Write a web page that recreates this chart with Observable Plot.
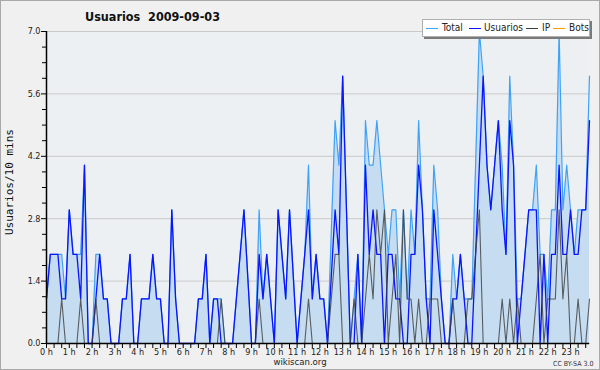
<!DOCTYPE html>
<html>
<head>
<meta charset="utf-8">
<script src="https://cdn.jsdelivr.net/npm/d3@7"></script>
<script src="https://cdn.jsdelivr.net/npm/@observablehq/plot@0.6"></script>
<style>
html,body{margin:0;padding:0;background:#f0f0f0;}
#wrap{position:relative;width:600px;height:370px;overflow:hidden;background:#f0f0f0;}
#wrap svg{position:absolute;left:0;top:0;}
#border{position:absolute;left:0;top:0;width:598px;height:368px;border:1px solid #a9a9a9;pointer-events:none;}
#title{position:absolute;left:85px;top:9px;font:bold 12.5px "DejaVu Sans Condensed","DejaVu Sans";white-space:pre;color:#111;line-height:15px;}
#ytitle{position:absolute;left:4px;top:126px;height:112px;writing-mode:vertical-rl;transform:rotate(180deg);font:11px "DejaVu Sans Mono";line-height:12px;white-space:pre;color:#111;text-align:center;}
#legend{position:absolute;left:422px;top:19px;width:166px;height:16px;background:#fff;border:1px solid #b0b0b0;box-shadow:2px 2px 0 #7a7a7a;font:10px "DejaVu Sans Condensed","DejaVu Sans";color:#222;}
#legend .sw{position:absolute;top:8px;width:12px;height:1px;}
#legend .tx{position:absolute;top:2px;line-height:12px;white-space:nowrap;}
#src{position:absolute;left:0;width:600px;top:357px;text-align:center;font:9.5px "DejaVu Sans Condensed","DejaVu Sans";line-height:10px;color:#222;}
#cc{position:absolute;left:553px;top:360px;font:7px "DejaVu Sans Condensed","DejaVu Sans";line-height:8px;color:#333;}
</style>
</head>
<body>
<div id="wrap">
  <div id="chart"></div>
  <div id="title"></div>
  <div id="ytitle"></div>
  <div id="legend"></div>
  <div id="src"></div>
  <div id="cc"></div>
  <div id="border"></div>
</div>
<script>
// ---- Data (10-minute slots, 0:00 .. 23:50); null = no point drawn ----
const titleText = "Usuarios  2009-09-03";
const yTitle = "Usuarios/10 mins";
const seriesNames = ["Total", "Usuarios", "IP", "Bots"];
const seriesColors = ["#3fa2f7", "#0a14ff", "#3c3c3c", "#ff9a00"];
const hourLabels = ["0 h","1 h","2 h","3 h","4 h","5 h","6 h","7 h","8 h","9 h","10 h","11 h","12 h","13 h","14 h","15 h","16 h","17 h","18 h","19 h","20 h","21 h","22 h","23 h"];
const yTicks = [0, 1.4, 2.8, 4.2, 5.6, 7.0];
const yMinorTicks = [0.35,0.7,1.05,1.75,2.1,2.45,3.15,3.5,3.85,4.55,4.9,5.25,5.95,6.3,6.65];

const usuarios = [
 1,2,2,2,1,1,3,2,2,1,4,0,0,1,2,1,1,0,0,0,1,1,2,0,
 0,1,1,1,2,1,1,0,0,3,1,0,0,0,0,0,1,1,2,0,1,1,0,0,
 0,0,1,2,3,null,0,0,2,1,2,1,0,3,2,1,3,null,0,1,2,3,1,2,
 1,1,0,null,3,2,6,null,0,0,2,0,4,2,3,2,2,0,2,2,1,1,0,0,
 2,2,4,3,1,0,3,2,1,0,0,1,1,2,1,0,0,2,4,6,4,3,4,5,
 3,2,5,4,0,1,2,3,3,3,0,2,0,2,2,4,2,2,3,2,2,3,3,5];
const ip = [
 0,0,0,0,1,0,0,0,0,1,0,0,0,1,0,0,0,0,0,0,0,0,0,0,
 0,0,0,0,0,0,0,0,0,0,0,0,0,0,0,0,0,0,0,0,0,0,1,0,
 0,0,0,0,0,null,0,0,1,0,0,0,0,0,0,0,0,null,0,0,0,1,0,0,
 0,0,0,null,2,2,0,null,0,1,0,0,1,2,1,3,2,3,0,1,2,0,3,1,
 1,0,1,0,0,1,1,1,0,0,0,1,0,0,0,1,1,2,3,0,0,0,0,0,
 1,0,1,0,1,0,0,0,0,1,2,0,1,1,1,3,1,2,0,0,1,0,0,1];
const total = [
 1,2,2,2,2,1,3,2,2,2,4,0,0,2,2,1,1,0,0,0,1,1,2,0,
 0,1,1,1,2,1,1,0,0,3,1,0,0,0,0,0,1,1,2,0,1,1,1,0,
 0,0,1,2,3,null,0,0,3,1,2,1,0,3,2,1,3,null,0,1,2,4,1,2,
 1,1,0,null,5,4,6,null,0,1,2,0,5,4,4,5,4,3,2,3,3,1,3,1,
 3,2,5,3,1,1,4,3,1,0,0,2,1,2,1,1,1,4,7,6,4,3,4,5,
 4,2,6,4,1,1,2,3,3,4,2,2,1,3,3,7,3,4,3,2,3,3,3,6];
const bots = [
 0,0,0,0,0,0,0,0,0,0,0,0,0,0,0,0,0,0,0,0,0,0,0,0,
 0,0,0,0,0,0,0,0,0,0,0,0,0,0,0,0,0,0,0,0,0,0,0,0,
 0,0,0,0,0,null,0,0,0,0,0,0,0,0,0,0,0,null,0,0,0,0,0,0,
 0,0,0,null,0,0,0,null,0,0,0,0,0,0,0,0,0,0,0,0,0,0,0,0,
 0,0,0,0,0,0,0,0,0,0,0,0,0,0,0,0,0,0,0,0,0,0,0,0,
 0,0,0,0,0,0,0,0,0,0,0,0,0,0,0,0,0,0,0,0,0,0,0,0];

const rows = arr => arr.map((v, i) => ({i, v})).filter(d => d.v != null);
const hourTicks = hourLabels.map((_, h) => h * 6);
const minorX = d3.range(0, 144, 2).filter(i => i % 6 !== 0);

const font = '"DejaVu Sans Condensed","DejaVu Sans"';
const chart = Plot.plot({
  width: 600, height: 370,
  marginLeft: 46, marginRight: 11, marginTop: 31, marginBottom: 27,
  x: {domain: [0, 143]},
  y: {domain: [0, 7]},
  style: {background: "transparent", fontFamily: font, fontSize: "9px", color: "#222"},
  marks: [
    Plot.frame({fill: "#edf0f3", stroke: "none"}),
    Plot.gridY(yTicks, {stroke: "#c9c9c9", strokeOpacity: 1}),
    Plot.areaY(rows(total), {x: "i", y: "v", fill: "#c6ddf1", fillOpacity: 1}),
    Plot.line(rows(total), {x: "i", y: "v", stroke: seriesColors[0], strokeWidth: 1.2}),
    Plot.line(rows(usuarios), {x: "i", y: "v", stroke: seriesColors[1], strokeWidth: 1.3}),
    Plot.line(rows(ip), {x: "i", y: "v", stroke: seriesColors[2], strokeWidth: 1.1, strokeOpacity: 0.8}),
    Plot.line(rows(bots), {x: "i", y: "v", stroke: seriesColors[3], strokeWidth: 1}),
    Plot.ruleX([0], {stroke: "#000", strokeWidth: 1.5}),
    Plot.ruleY([0], {stroke: "#000", strokeWidth: 1.5}),
    Plot.axisY(yTicks, {tickSize: 5, tickPadding: 1, tickFormat: d => d.toFixed(1), label: null, stroke: "#000"}),
    Plot.axisY(yMinorTicks, {tickSize: 4, tickFormat: () => "", label: null, stroke: "#000"}),
    Plot.axisX(hourTicks, {tickSize: 5, tickPadding: 0, tickFormat: d => hourLabels[d / 6], label: null, stroke: "#000"}),
    Plot.axisX(minorX, {tickSize: 5, tickFormat: () => "", label: null, stroke: "#000"})
  ]
});
document.getElementById("chart").appendChild(chart);

document.getElementById("title").textContent = titleText;
document.getElementById("ytitle").textContent = yTitle;
document.getElementById("src").textContent = "wikiscan.org";
document.getElementById("cc").textContent = "CC BY-SA 3.0";
const lg = document.getElementById("legend");
const swX = [3, 46, 103, 130];
const txX = [19, 61, 119, 146];
seriesNames.forEach((n, k) => {
  const sw = document.createElement("div");
  sw.className = "sw";
  sw.style.left = swX[k] + "px";
  sw.style.background = seriesColors[k];
  lg.appendChild(sw);
  const tx = document.createElement("div");
  tx.className = "tx";
  tx.style.left = txX[k] + "px";
  tx.textContent = n;
  lg.appendChild(tx);
});
</script>
</body>
</html>
